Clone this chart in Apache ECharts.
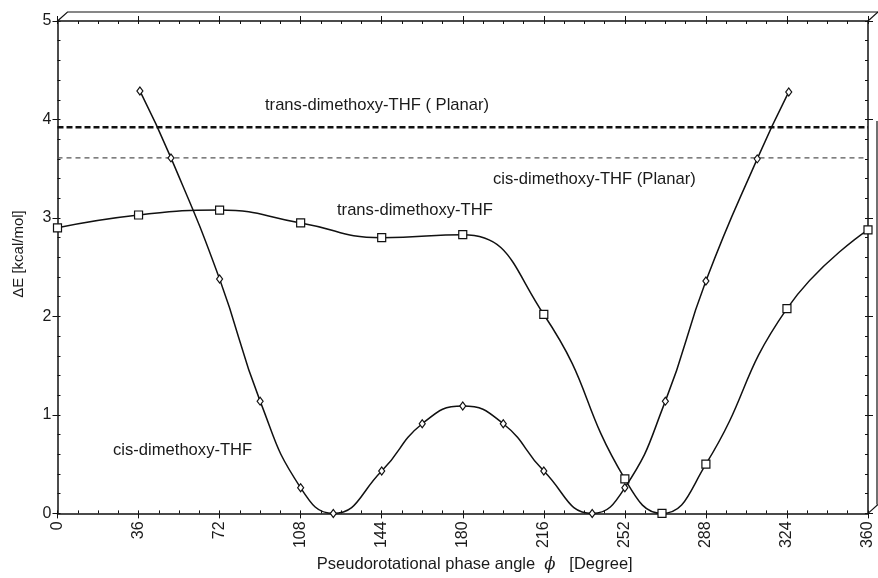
<!DOCTYPE html>
<html>
<head>
<meta charset="utf-8">
<script src="https://cdn.jsdelivr.net/npm/echarts@6/dist/echarts.min.js"></script>
<style>html,body{margin:0;padding:0;background:#fff}#c{width:878px;height:578px}</style>
</head>
<body>
<div id="c"></div>
<script>
// ---- data ----
const xTicks = [0, 36, 72, 108, 144, 180, 216, 252, 288, 324, 360];
const yTicks = [0, 1, 2, 3, 4, 5];

const cisPhase = [36.6, 50.4, 72, 90, 108, 122.5, 144, 162, 180, 198, 216, 237.5, 252, 270, 288, 310.8, 324.8];
const cisEnergy = [4.29, 3.61, 2.38, 1.14, 0.26, 0, 0.43, 0.91, 1.09, 0.91, 0.43, 0, 0.26, 1.14, 2.36, 3.60, 4.28];

const transPhase = [0, 36, 72, 108, 144, 180, 216, 252, 268.5, 288, 324, 360];
const transEnergy = [2.90, 3.03, 3.08, 2.95, 2.80, 2.83, 2.02, 0.35, 0, 0.50, 2.08, 2.88];

const planarPhase = [0, 360];
const transPlanarEnergy = 3.92;
const cisPlanarEnergy = 3.61;

const seriesNames = ['cis-dimethoxy-THF', 'trans-dimethoxy-THF', 'trans-dimethoxy-THF ( Planar)', 'cis-dimethoxy-THF (Planar)'];
const xTitle = 'Pseudorotational phase angle';
const xUnit = '[Degree]';
const yTitle = '\u0394E [kcal/mol]';

// ---- build ----
const FONT = '"Liberation Sans", Arial, Helvetica, sans-serif';
const zip = (xs, ys) => xs.map((x, i) => [x, ys[i]]);
const txt = '#1a1a1a';

function xAx(pos, interval, inside, len, showLabel, showLine) {
  return {
    type: 'value', position: pos, min: 0, max: 360, interval: interval,
    axisLine: { show: showLine, onZero: false, lineStyle: { color: '#111', width: 1.5 } },
    axisTick: { show: true, inside: inside, length: len, lineStyle: { color: '#111', width: 1 } },
    axisLabel: { show: showLabel, rotate: 90, margin: 8, fontSize: 16, color: txt, fontFamily: FONT,
      formatter: v => xTicks.includes(v) ? String(v) : '' },
    splitLine: { show: false }
  };
}
function yAx(pos, interval, inside, len, showLabel, showLine) {
  return {
    type: 'value', position: pos, min: 0, max: 5, interval: interval,
    axisLine: { show: showLine, onZero: false, lineStyle: { color: '#111', width: 1.5 } },
    axisTick: { show: true, inside: inside, length: len, lineStyle: { color: '#111', width: 1 } },
    axisLabel: { show: showLabel, margin: 6, fontSize: 16, color: txt, fontFamily: FONT,
      formatter: v => yTicks.includes(v) ? String(v) : '' },
    splitLine: { show: false }
  };
}

const xAxes = [
  xAx('bottom', 36, false, 5, true, true),
  xAx('bottom', 9, true, 3, false, false),
  xAx('top', 36, false, 5, false, true),
  xAx('top', 9, true, 3, false, false)
];
xAxes[0].name = xTitle + '  {i|\u03D5}   ' + xUnit;
xAxes[0].nameLocation = 'middle';
xAxes[0].nameGap = 42;
xAxes[0].nameTextStyle = { fontSize: 16.5, color: txt, fontFamily: FONT, padding: [0, 0, 0, 24],
  rich: { i: { fontSize: 16.5, fontStyle: 'italic', color: txt, fontFamily: '"DejaVu Serif", serif' } } };

const yAxes = [
  yAx('left', 1, false, 5, true, true),
  yAx('left', 0.2, true, 3, false, false),
  yAx('right', 1, false, 5, false, true),
  yAx('right', 0.2, true, 3, false, false)
];

const chart = echarts.init(document.getElementById('c'), null, { renderer: 'canvas' });

const option = {
  backgroundColor: '#fff',
  animation: false,
  grid: { left: 57.5, right: 10, top: 21, bottom: 64.5 },
  xAxis: xAxes,
  yAxis: yAxes,
  series: [
    {
      name: seriesNames[0], type: 'line', data: zip(cisPhase, cisEnergy), smooth: 0.5,
      symbol: 'diamond', symbolSize: [6, 8], showAllSymbol: true,
      itemStyle: { color: '#fff', borderColor: '#111', borderWidth: 1.2 },
      lineStyle: { color: '#111', width: 1.5 }, z: 5
    },
    {
      name: seriesNames[1], type: 'line', data: zip(transPhase, transEnergy), smooth: 0.5,
      symbol: 'rect', symbolSize: 8, showAllSymbol: true,
      itemStyle: { color: '#fff', borderColor: '#111', borderWidth: 1.2 },
      lineStyle: { color: '#111', width: 1.5 }, z: 4
    },
    {
      name: seriesNames[2], type: 'line', data: planarPhase.map(x => [x, transPlanarEnergy]),
      symbol: 'none', lineStyle: { color: '#111', width: 2.5, type: [6, 3] }, z: 3
    },
    {
      name: seriesNames[3], type: 'line', data: planarPhase.map(x => [x, cisPlanarEnergy]),
      symbol: 'none', lineStyle: { color: '#555', width: 1.2, type: [5, 4] }, z: 3
    }
  ]
};
chart.setOption(option);

// annotation texts and pseudo-3D frame
const p = (x, y) => chart.convertToPixel({ gridIndex: 0 }, [x, y]);
const tl = p(0, 5), tr = p(360, 5), br = p(360, 0);
const labelStyle = (t) => ({ text: t, font: '16.6px ' + FONT, fill: txt, textVerticalAlign: 'middle' });
chart.setOption({
  graphic: [
    { type: 'text', left: 265, top: 97, style: labelStyle(seriesNames[2]) },
    { type: 'text', left: 493, top: 171, style: labelStyle(seriesNames[3]) },
    { type: 'text', left: 337, top: 202, style: labelStyle(seriesNames[1]) },
    { type: 'text', left: 113, top: 442, style: labelStyle(seriesNames[0]) },
    { type: 'text', x: 19, y: 254, rotation: Math.PI / 2,
      style: { text: yTitle, font: '15px ' + FONT, fill: txt, align: 'center', verticalAlign: 'middle' } },
    { type: 'polyline', shape: { points: [[tl[0], tl[1]], [tl[0] + 10, tl[1] - 9], [878, tl[1] - 9]] },
      style: { stroke: '#111', lineWidth: 1.2, fill: null } },
    { type: 'line', shape: { x1: tr[0], y1: tr[1], x2: tr[0] + 10, y2: tr[1] - 9 }, style: { stroke: '#111', lineWidth: 1.2 } },
    { type: 'line', shape: { x1: br[0], y1: br[1], x2: br[0] + 10, y2: br[1] - 9 }, style: { stroke: '#111', lineWidth: 1.2 } },
    { type: 'line', shape: { x1: 877, y1: tl[1] + 100, x2: 877, y2: br[1] - 9 }, style: { stroke: '#111', lineWidth: 1.2 } }
  ]
});
</script>
</body>
</html>
